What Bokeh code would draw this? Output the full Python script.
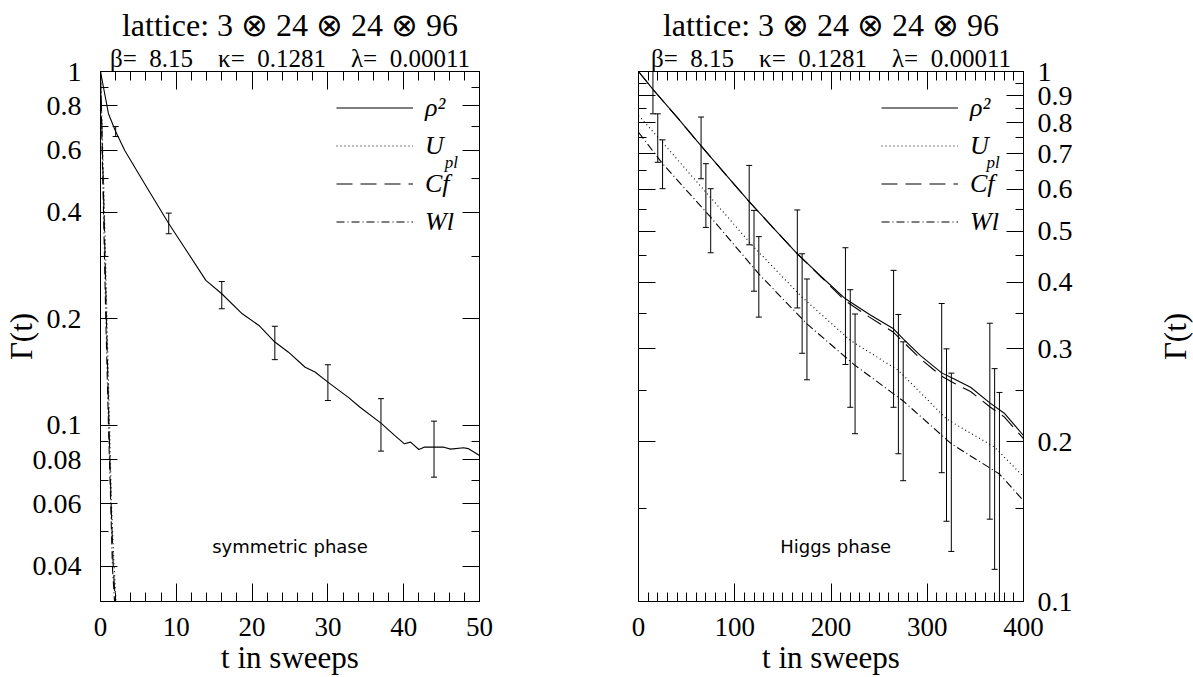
import math
from bokeh.plotting import figure
from bokeh.models import (LogAxis, LinearAxis, FixedTicker, NumeralTickFormatter, Whisker,
                          TeeHead, ColumnDataSource, Legend, LegendItem, Label, Title, Range1d)
from bokeh.layouts import row
from bokeh.embed import file_html
from bokeh.resources import INLINE

SERIF = "Liberation Serif"
SANS = "DejaVu Sans"

NB = "\u00a0"
TITLE = "lattice: 3 \u2297 24 \u2297 24 \u2297 96"
SUBTITLE = ("\u03b2=" + NB * 2 + "8.15" + NB * 4 + "\u03ba=" + NB * 2 + "0.1281" + NB * 4 +
            "\u03bb=" + NB * 2 + "0.00011")
XLABEL = "t in sweeps"
YLABEL = "\u0393(t)"
LABELS = ["\u03c1\u00b2", "U", "Cf", "Wl"]

# ---------------- symmetric phase (left) ----------------
tL_rho = [0, 1.05, 2, 3.2, 6.1, 9, 10.9, 13.9, 16, 18.7, 20.9, 23, 24.8, 27.0, 28.3, 30,
          32.7, 34.2, 37, 38.8, 40.1, 40.9, 42.0, 42.7, 43.9, 45.3, 46.2, 47.9, 48.5, 50]
rhoL = [1.0, 0.76, 0.677, 0.598, 0.471, 0.372, 0.3225, 0.257, 0.2355, 0.2067, 0.1916, 0.172,
        0.161, 0.146, 0.1415, 0.1325, 0.120, 0.1127, 0.1015, 0.0937, 0.0887, 0.0897, 0.0855,
        0.0868, 0.0868, 0.0868, 0.0857, 0.0865, 0.086, 0.0822]
tL_upl = [0, 0.3, 0.6, 0.85, 1.2, 1.45, 1.8, 2.05]
uplL = [1.0, 0.6, 0.35, 0.2, 0.1, 0.06, 0.04, 0.0318]
tL_cf = [0, 0.25, 0.5, 0.78, 1.12, 1.4, 1.68, 1.95]
cfL = [1.0, 0.6, 0.37, 0.2, 0.1, 0.06, 0.04, 0.0318]
tL_wl = [0, 0.2, 0.4, 0.7, 1.05, 1.35, 1.57, 1.85]
wlL = [1.0, 0.62, 0.4, 0.2, 0.1, 0.06, 0.04, 0.0318]
tL_err = [2, 9, 16, 23, 30, 37, 44]
rhoL_err_v = [0.677, 0.373, 0.2343, 0.172, 0.133, 0.1018, 0.0871]
rhoL_err_e = [0.022, 0.025, 0.0207, 0.0186, 0.0154, 0.0172, 0.0157]

# ---------------- Higgs phase (right) ----------------
tR_rho = [0, 15, 40, 65, 90, 115, 140, 165, 190, 215, 240, 265, 275, 293, 315, 328, 345, 365, 380, 400]
rhoR = [1.0, 0.925, 0.82, 0.724, 0.641, 0.568, 0.507, 0.453, 0.41, 0.3725, 0.348, 0.327, 0.313,
        0.291, 0.27, 0.263, 0.2537, 0.237, 0.2266, 0.2057]
cfR = [1.0, 0.925, 0.82, 0.724, 0.641, 0.568, 0.507, 0.453, 0.409, 0.369, 0.344, 0.322, 0.309,
       0.287, 0.266, 0.258, 0.249, 0.233, 0.223, 0.203]
tR_upl = [0, 20, 70, 120, 170, 220, 270, 320, 370, 400]
uplR = [0.826, 0.752, 0.592, 0.466, 0.375, 0.311, 0.273, 0.221, 0.1955, 0.172]
tR_wl = [0, 25, 75, 125, 175, 225, 275, 325, 375, 400]
wlR = [0.768, 0.67, 0.531, 0.415, 0.334, 0.279, 0.239, 0.1984, 0.174, 0.155]
tR_rho_err = [15, 65, 115, 165, 215, 265, 315, 365]
rhoR_err_v = [0.925, 0.724, 0.568, 0.453, 0.3725, 0.327, 0.27, 0.239]
rhoR_err_e = [0.093, 0.0965, 0.097, 0.095, 0.0925, 0.0945, 0.095, 0.096]
tR_upl_err = [20, 70, 120, 170, 220, 270, 320, 370]
uplR_err_v = [0.753, 0.589, 0.466, 0.3735, 0.31, 0.269, 0.2207, 0.195]
uplR_err_e = [0.079, 0.081, 0.081, 0.0795, 0.0775, 0.079, 0.079, 0.080]
tR_wl_err = [25, 75, 125, 175, 225, 275, 325, 375]
wlR_err_v = [0.672, 0.528, 0.416, 0.334, 0.278, 0.239, 0.197, 0.174]
wlR_err_e = [0.071, 0.073, 0.072, 0.072, 0.0707, 0.07, 0.0727, 0.074]

# ticks
xL_major = [0, 10, 20, 30, 40, 50]
xL_minor = list(range(0, 51, 2))
yL_major = [0.04, 0.06, 0.08, 0.1, 0.2, 0.4, 0.6, 0.8, 1.0]
yL_minor = [0.05, 0.07, 0.09, 0.3, 0.5, 0.7, 0.9]
xR_major = [0, 100, 200, 300, 400]
xR_minor = list(range(0, 401, 10))
yR_major = [0.1, 0.2, 0.3, 0.4, 0.5, 0.6, 0.7, 0.8, 0.9, 1.0]
yR_minor = [0.15, 0.25, 0.35, 0.45, 0.55, 0.65, 0.75, 0.85, 0.95]

STYLES = {"upl": "1 3", "cf": "16 8", "wl": "8 3 1 3"}

FRAME_TOP, FRAME_BOTTOM_BORDER = 71, 76


def style_axis(ax, major_len, minor_len, show_labels, size="28px"):
    ax.axis_line_color = "black"
    ax.major_tick_line_color = "black"
    ax.minor_tick_line_color = "black"
    ax.major_tick_in = major_len
    ax.major_tick_out = 0
    ax.minor_tick_in = minor_len
    ax.minor_tick_out = 0
    ax.major_label_text_font = SERIF
    if show_labels:
        ax.major_label_text_font_size = size
        ax.major_label_text_color = "black"
    else:
        ax.major_label_text_font_size = "1px"
        ax.major_label_text_color = None
        ax.major_label_standoff = 0
    ax.axis_label_text_font = SERIF
    ax.axis_label_text_font_style = "normal"
    ax.axis_label_text_font_size = "31px"
    ax.axis_label_text_color = "black"


def make_fig(xr, yr, width, bl, br, xmaj, xmin, ymaj, ymin, yfmt, label_side):
    p = figure(width=width, height=677, x_range=Range1d(*xr), y_range=Range1d(*yr),
               y_axis_type="log", x_axis_location=None, y_axis_location=None,
               output_backend="svg", toolbar_location=None, title=None,
               min_border_left=bl, min_border_right=br, min_border_top=FRAME_TOP,
               min_border_bottom=FRAME_BOTTOM_BORDER)
    p.xgrid.visible = False
    p.ygrid.visible = False
    p.outline_line_color = "black"
    p.background_fill_color = "white"
    p.border_fill_color = "white"

    xt = FixedTicker(ticks=xmaj, minor_ticks=xmin)
    yt = FixedTicker(ticks=ymaj, minor_ticks=ymin)

    bottom = LinearAxis(ticker=xt, axis_label=XLABEL)
    style_axis(bottom, 18, 9, True, "27px")
    bottom.major_label_standoff = 16
    bottom.axis_label_standoff = 1
    p.add_layout(bottom, "below")

    top = LinearAxis(ticker=xt)
    style_axis(top, 18, 9, False)
    p.add_layout(top, "above")

    lab = LogAxis(ticker=yt, formatter=NumeralTickFormatter(format=yfmt))
    style_axis(lab, 17, 8, True, "28px")
    nolab = LogAxis(ticker=yt)
    style_axis(nolab, 17, 8, False)
    if label_side == "left":
        lab.axis_label = YLABEL
        lab.major_label_standoff = 19
        lab.axis_label_standoff = -9
        p.add_layout(lab, "left")
        p.add_layout(nolab, "right")
    else:
        lab.major_label_standoff = 14
        p.add_layout(lab, "right")
        p.add_layout(nolab, "left")

    p.add_layout(Title(text=SUBTITLE, align="center", text_font=SERIF, text_font_style="normal",
                       text_font_size="25px", text_color="black", standoff=0), "above")
    p.add_layout(Title(text=TITLE, align="center", text_font=SERIF, text_font_style="normal",
                       text_font_size="32px", text_color="black", standoff=0), "above")
    return p


def add_errs(p, t, v, e):
    src = ColumnDataSource(dict(t=t, up=[a + b for a, b in zip(v, e)], lo=[a - b for a, b in zip(v, e)]))
    w = Whisker(source=src, base="t", upper="up", lower="lo", line_color="black", line_width=1,
                upper_head=TeeHead(size=6, line_color="black", line_width=1),
                lower_head=TeeHead(size=6, line_color="black", line_width=1))
    p.add_layout(w)


def add_legend(p, renderers, xoff, sub_xy):
    items = [LegendItem(label=lab, renderers=[r]) for lab, r in zip(LABELS, renderers)]
    leg = Legend(items=items, location=(xoff, 364), glyph_width=77, glyph_height=31,
                 label_height=31, label_standoff=12, spacing=7, padding=0, margin=0,
                 border_line_alpha=0, background_fill_alpha=0,
                 label_text_font=SERIF, label_text_font_style="italic",
                 label_text_font_size="26px", label_text_color="black")
    p.add_layout(leg)
    p.add_layout(Label(x=sub_xy[0], y=sub_xy[1], text="pl", text_font=SERIF,
                       text_font_style="italic", text_font_size="17px", text_color="black",
                       text_baseline="middle", text_align="left"))


# ---- left figure
p1 = make_fig((0, 50), (0.0318, 1.0), 499, 97, 20, xL_major, xL_minor, yL_major, yL_minor,
              "0.[00]", "left")
r1 = p1.line(tL_rho, rhoL, line_color="black", line_width=1.1)
r2 = p1.line(tL_upl, uplL, line_color="black", line_width=1.1, line_dash=STYLES["upl"])
r3 = p1.line(tL_cf, cfL, line_color="black", line_width=1.1, line_dash=STYLES["cf"])
r4 = p1.line(tL_wl, wlL, line_color="black", line_width=1.1, line_dash=STYLES["wl"])
add_errs(p1, tL_err, rhoL_err_v, rhoL_err_e)
add_legend(p1, [r1, r2, r3, r4], 236, (45.4, 0.553))
p1.add_layout(Label(x=25, y=0.0455, text="symmetric phase", text_font=SANS, text_font_size="18px",
                    text_color="black", text_align="center", text_baseline="middle"))

# ---- right figure
p2 = make_fig((0, 400), (0.1, 1.0), 584, 139, 60, xR_major, xR_minor, yR_major, yR_minor,
              "0.[0]", "right")
s1 = p2.line(tR_rho, rhoR, line_color="black", line_width=1.1)
s2 = p2.line(tR_upl, uplR, line_color="black", line_width=1.1, line_dash=STYLES["upl"])
s3 = p2.line(tR_rho, cfR, line_color="black", line_width=1.1, line_dash=STYLES["cf"])
s4 = p2.line(tR_wl, wlR, line_color="black", line_width=1.1, line_dash=STYLES["wl"])
add_errs(p2, tR_rho_err, rhoR_err_v, rhoR_err_e)
add_errs(p2, tR_upl_err, uplR_err_v, uplR_err_e)
add_errs(p2, tR_wl_err, wlR_err_v, wlR_err_e)
add_legend(p2, [s1, s2, s3, s4], 243, (361.5, 0.673))
p2.add_layout(Label(x=204.8, y=0.127, text="Higgs phase", text_font=SANS, text_font_size="18px",
                    text_color="black", text_align="center", text_baseline="middle"))

# ---- narrow strip carrying the right-hand axis title
p3 = figure(width=110, height=677, x_range=Range1d(0, 1), y_range=Range1d(0, 1),
            x_axis_location=None, y_axis_location=None, output_backend="svg",
            toolbar_location=None, title=None, min_border_left=105, min_border_right=0,
            min_border_top=FRAME_TOP, min_border_bottom=FRAME_BOTTOM_BORDER)
p3.xgrid.visible = False
p3.ygrid.visible = False
p3.outline_line_color = None
p3.border_fill_color = "white"
ax3 = LinearAxis(axis_label=YLABEL, ticker=FixedTicker(ticks=[]))
ax3.axis_line_color = None
ax3.major_tick_line_color = None
ax3.minor_tick_line_color = None
ax3.major_label_text_color = None
ax3.major_label_text_font_size = "1px"
ax3.major_label_standoff = 0
ax3.axis_label_text_font = SERIF
ax3.axis_label_text_font_style = "normal"
ax3.axis_label_text_font_size = "31px"
ax3.axis_label_text_color = "black"
ax3.axis_label_standoff = -4
p3.add_layout(ax3, "left")

layout = row(p1, p2, p3, spacing=0)
open("out.html", "w").write(file_html(layout, INLINE))
